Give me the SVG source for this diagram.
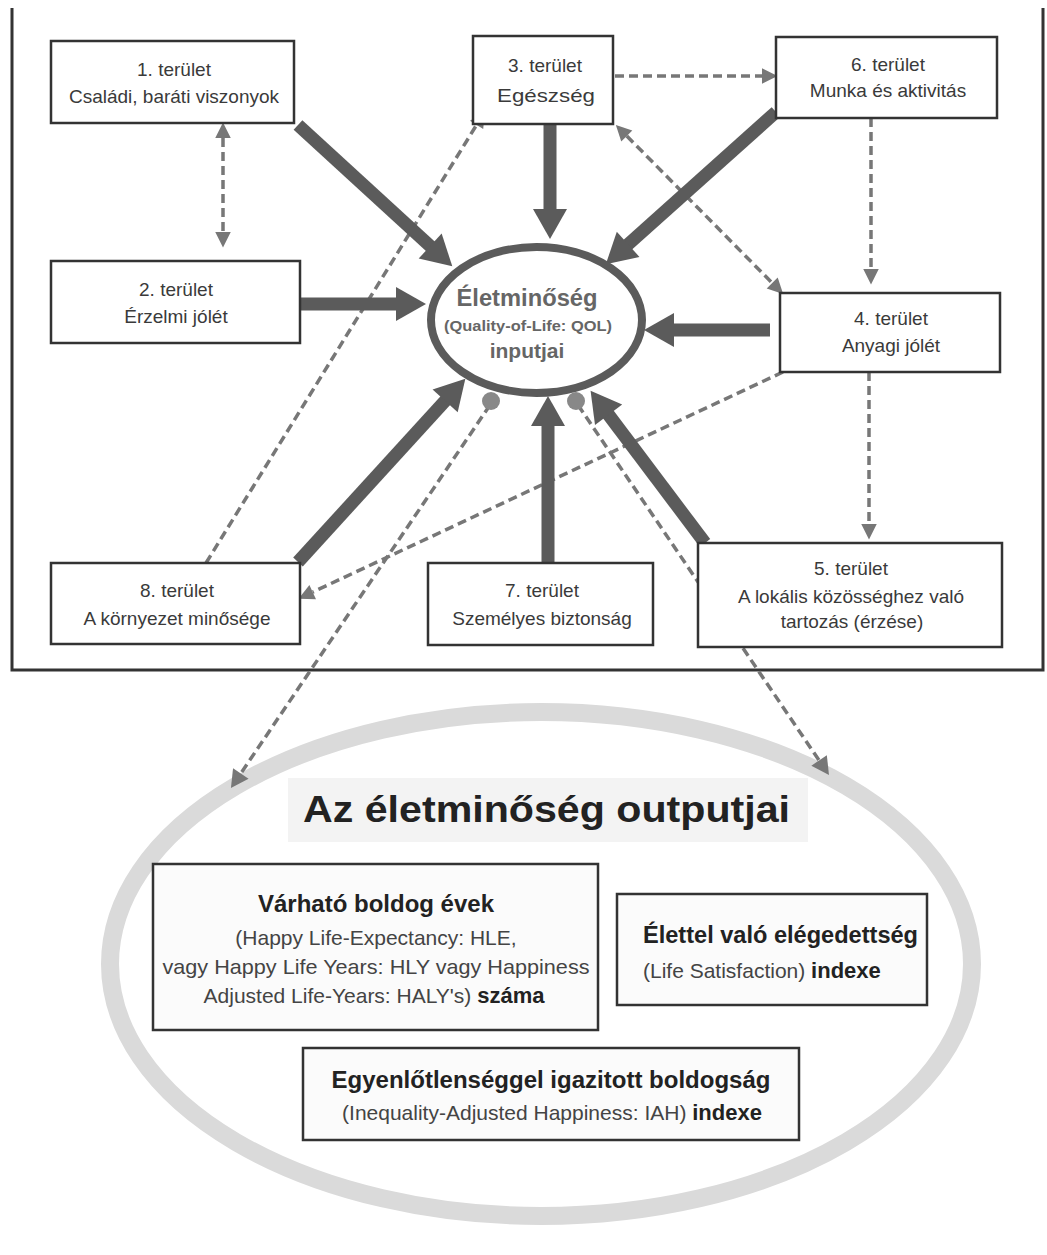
<svg xmlns="http://www.w3.org/2000/svg" width="1047" height="1255" viewBox="0 0 1047 1255">
<defs>
<style>
text{font-family:"Liberation Sans",Arial,sans-serif;}
.box{fill:#fff;stroke:#333;stroke-width:2.5;}
.obox{fill:#fbfbfb;stroke:#333;stroke-width:2.5;}
.t{font-size:19px;fill:#3a3a3a;text-anchor:middle;}
.ct{font-weight:bold;fill:#666;text-anchor:middle;}
.ot{font-size:21px;fill:#444;}
.ob{font-weight:bold;fill:#222;}
.dash{fill:none;stroke:#777;stroke-width:3.5;stroke-dasharray:9 5;}
.thick{fill:none;stroke:#5b5b5b;stroke-width:13;}
</style>
<marker id="big" markerUnits="userSpaceOnUse" markerWidth="40" markerHeight="40" viewBox="-2 -20 36 40" refX="1" refY="0" orient="auto">
<path d="M0,-17 L30,0 L0,17 z" fill="#5b5b5b"/>
</marker>
<marker id="sm" markerUnits="userSpaceOnUse" markerWidth="20" markerHeight="20" viewBox="-1 -9 17 18" refX="0" refY="0" orient="auto-start-reverse">
<path d="M0,-7 L14,0 L0,7 z" fill="#777"/>
</marker>
<marker id="smo" markerUnits="userSpaceOnUse" markerWidth="22" markerHeight="22" viewBox="-1 -10 19 20" refX="0" refY="0" orient="auto">
<path d="M0,-8.5 L16,0 L0,8.5 z" fill="#777"/>
</marker>
</defs>
<rect width="1047" height="1255" fill="#fff"/>

<g id="frame">
<path d="M12,8 V670 H1043 V8" fill="none" stroke="#333" stroke-width="3"/>
</g>

<g id="outputs-ellipse">
<ellipse cx="541" cy="964" rx="431" ry="252" fill="none" stroke="#dadada" stroke-width="18"/>
</g>

<g id="connectors">
<line class="dash" x1="223" y1="138" x2="223" y2="232" marker-start="url(#sm)" marker-end="url(#sm)"/>
<line class="dash" x1="615" y1="76" x2="762" y2="76" marker-end="url(#sm)"/>
<line class="dash" x1="626.8" y1="136" x2="772.2" y2="283" marker-start="url(#sm)" marker-end="url(#sm)"/>
<line class="dash" x1="871" y1="118" x2="871" y2="269" marker-end="url(#sm)"/>
<line class="dash" x1="869" y1="372" x2="869" y2="524" marker-end="url(#sm)"/>
<line class="dash" x1="206" y1="563" x2="476.6" y2="124.9" marker-end="url(#sm)"/>
<line class="dash" x1="783" y1="372" x2="312.7" y2="592.1" marker-end="url(#sm)"/>
<line class="dash" x1="490" y1="405" x2="240.8" y2="773.4" marker-end="url(#smo)"/>
<line class="dash" x1="578" y1="405" x2="819.1" y2="760.4" marker-end="url(#smo)"/>

<line class="thick" x1="298" y1="125" x2="430.9" y2="246.7" marker-end="url(#big)"/>
<line class="thick" x1="300" y1="304" x2="397" y2="304" marker-end="url(#big)"/>
<line class="thick" x1="550" y1="124" x2="550" y2="210" marker-end="url(#big)"/>
<line class="thick" x1="776" y1="112" x2="627.4" y2="245" marker-end="url(#big)"/>
<line class="thick" x1="770" y1="330" x2="673" y2="330" marker-end="url(#big)"/>
<line class="thick" x1="298" y1="562" x2="445.8" y2="400.1" marker-end="url(#big)"/>
<line class="thick" x1="548" y1="563" x2="548" y2="425" marker-end="url(#big)"/>
<line class="thick" x1="705" y1="543" x2="608" y2="414" marker-end="url(#big)"/>
</g>

<g id="qol">
<circle cx="491" cy="401" r="9" fill="#888"/>
<circle cx="576" cy="401" r="9" fill="#888"/>
<ellipse cx="536.5" cy="320" rx="105.5" ry="73" fill="#fff" stroke="#5b5b5b" stroke-width="8"/>
<text class="ct" x="527" y="306" font-size="23.5" textLength="141" lengthAdjust="spacingAndGlyphs">Életminőség</text>
<text class="ct" x="528" y="331" font-size="15" textLength="168" lengthAdjust="spacingAndGlyphs">(Quality-of-Life: QOL)</text>
<text class="ct" x="527" y="358" font-size="21">inputjai</text>
</g>

<g id="n1">
<rect class="box" x="51" y="41" width="243" height="82"/>
<text class="t" x="174" y="76">1. terület</text>
<text class="t" x="174" y="103">Családi, baráti viszonyok</text>
</g>
<g id="n2">
<rect class="box" x="51" y="261" width="249" height="82"/>
<text class="t" x="176" y="296">2. terület</text>
<text class="t" x="176" y="323">Érzelmi jólét</text>
</g>
<g id="n3">
<rect class="box" x="473" y="36" width="140" height="88"/>
<text class="t" x="545" y="72">3. terület</text>
<text class="t" x="546" y="102" font-size="21" textLength="98" lengthAdjust="spacingAndGlyphs">Egészség</text>
</g>
<g id="n6">
<rect class="box" x="776" y="37" width="221" height="81"/>
<text class="t" x="888" y="71">6. terület</text>
<text class="t" x="888" y="97">Munka és aktivitás</text>
</g>
<g id="n4">
<rect class="box" x="780" y="293" width="220" height="79"/>
<text class="t" x="891" y="325">4. terület</text>
<text class="t" x="891" y="352">Anyagi jólét</text>
</g>
<g id="n8">
<rect class="box" x="51" y="563" width="249" height="81"/>
<text class="t" x="177" y="597">8. terület</text>
<text class="t" x="177" y="625">A környezet minősége</text>
</g>
<g id="n7">
<rect class="box" x="428" y="563" width="225" height="82"/>
<text class="t" x="542" y="597">7. terület</text>
<text class="t" x="542" y="625">Személyes biztonság</text>
</g>
<g id="n5">
<rect class="box" x="698" y="543" width="304" height="104"/>
<text class="t" x="851" y="575">5. terület</text>
<text class="t" x="851" y="603">A lokális közösséghez való</text>
<text class="t" x="852" y="628">tartozás (érzése)</text>
</g>

<g id="title">
<rect x="288" y="778" width="520" height="64" fill="#f3f3f3"/>
<text class="ob" x="303" y="822" font-size="37" textLength="487" lengthAdjust="spacingAndGlyphs">Az életminőség outputjai</text>
</g>

<g id="o1">
<rect class="obox" x="153" y="864" width="445" height="166"/>
<text class="ob" x="376" y="912" font-size="23" text-anchor="middle" textLength="236" lengthAdjust="spacingAndGlyphs">Várható boldog évek</text>
<text class="ot" x="376" y="945" text-anchor="middle">(Happy Life-Expectancy: HLE,</text>
<text class="ot" x="376" y="974" text-anchor="middle" textLength="427" lengthAdjust="spacingAndGlyphs">vagy Happy Life Years: HLY vagy Happiness</text>
<text class="ot" x="374" y="1003" text-anchor="middle">Adjusted Life-Years: HALY's) <tspan class="ob" font-size="22">száma</tspan></text>
</g>
<g id="o2">
<rect class="obox" x="617" y="894" width="310" height="111"/>
<text class="ob" x="643" y="943" font-size="23" textLength="275" lengthAdjust="spacingAndGlyphs">Élettel való elégedettség</text>
<text class="ot" x="643" y="978">(Life Satisfaction) <tspan class="ob" font-size="22">indexe</tspan></text>
</g>
<g id="o3">
<rect class="obox" x="303" y="1048" width="496" height="92"/>
<text class="ob" x="551" y="1088" font-size="23" text-anchor="middle" textLength="439" lengthAdjust="spacingAndGlyphs">Egyenlőtlenséggel igazitott boldogság</text>
<text class="ot" x="552" y="1120" text-anchor="middle">(Inequality-Adjusted Happiness: IAH) <tspan class="ob" font-size="22">indexe</tspan></text>
</g>
</svg>
